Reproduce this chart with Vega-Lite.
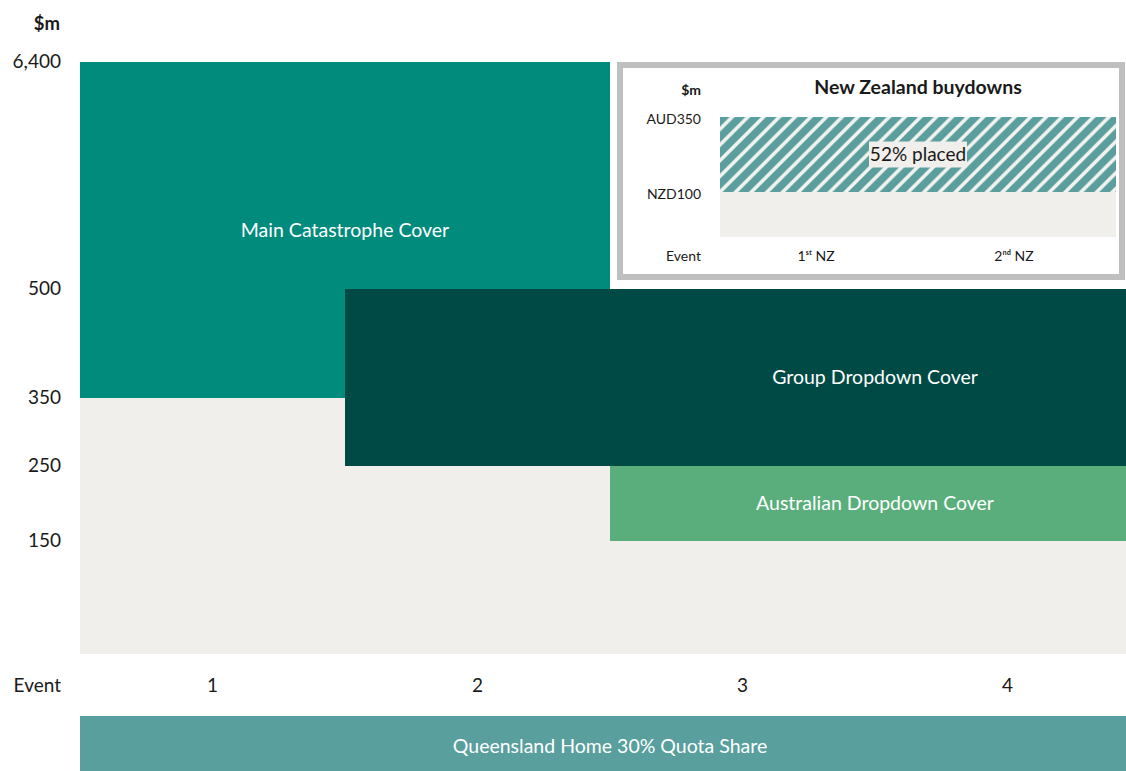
{
  "$schema": "https://vega.github.io/schema/vega-lite/v6.json",
  "width": 1126,
  "height": 771,
  "padding": 0,
  "autosize": {"type": "none"},
  "background": "white",
  "config": {
    "view": {"stroke": null},
    "font": "Lato",
    "text": {"font": "Lato", "color": "#1a1a1a"}
  },
  "datasets": {
    "retention": [
      {"event": 1, "from": 0, "to": 1, "low": 0, "high": 350},
      {"event": 2, "from": 1, "to": 2, "low": 0, "high": 250},
      {"event": 3, "from": 2, "to": 3, "low": 0, "high": 150},
      {"event": 4, "from": 3, "to": 4, "low": 0, "high": 150}
    ],
    "events": [
      {"event": 1, "mid": 0.5},
      {"event": 2, "mid": 1.5},
      {"event": 3, "mid": 2.5},
      {"event": 4, "mid": 3.5}
    ],
    "levels": [
      {"value": 150}, {"value": 250}, {"value": 350}, {"value": 500}, {"value": 6400}
    ],
    "covers": [
      {"cover": "Main Catastrophe Cover", "from": 0, "to": 2, "low": 350, "high": 6400, "label_x": 1, "label_y": 2000},
      {"cover": "Group Dropdown Cover", "from": 1, "to": 4, "low": 250, "high": 500, "label_x": 3, "label_y": 378},
      {"cover": "Australian Dropdown Cover", "from": 2, "to": 4, "low": 150, "high": 250, "label_x": 3, "label_y": 200}
    ],
    "quota": [
      {"cover": "Queensland Home 30% Quota Share", "from": 0, "to": 4, "label_x": 2}
    ],
    "nz_retention": [
      {"event": "1st NZ", "from": 0, "to": 1, "low": 0, "high": 100},
      {"event": "2nd NZ", "from": 1, "to": 2, "low": 0, "high": 100}
    ],
    "nz_buydown": [
      {"cover": "New Zealand buydowns", "from": 0, "to": 2, "low": 100, "high": 350, "placed": "52% placed", "label_x": 1, "label_y": 225}
    ],
    "nz_events": [
      {"label": "1ˢᵗ NZ", "mid": 0.5},
      {"label": "2ⁿᵈ NZ", "mid": 1.5}
    ],
    "nz_levels": [
      {"label": "NZD100", "value": 100},
      {"label": "AUD350", "value": 350}
    ]
  },
  "layer": [
    {
      "layer": [
        {
          "data": {"name": "retention"},
          "mark": {"type": "rect", "fill": "#F0EFEB", "clip": true},
          "encoding": {
            "x": {"field": "from", "type": "quantitative", "scale": {"domain": [0, 4], "range": [80, 1140], "nice": false, "zero": false}, "axis": null},
            "x2": {"field": "to"},
            "y": {"field": "low", "type": "quantitative", "scale": {"domain": [0, 150, 250, 350, 500, 6400], "range": [654, 541, 466, 398, 289, 62], "nice": false, "zero": false}, "axis": null},
            "y2": {"field": "high"}
          }
        },
        {
          "data": {"name": "covers"},
          "mark": {"type": "rect", "clip": true},
          "encoding": {
            "x": {"field": "from", "type": "quantitative", "scale": {"domain": [0, 4], "range": [80, 1140], "nice": false, "zero": false}, "axis": null},
            "x2": {"field": "to"},
            "y": {"field": "low", "type": "quantitative", "scale": {"domain": [0, 150, 250, 350, 500, 6400], "range": [654, 541, 466, 398, 289, 62], "nice": false, "zero": false}, "axis": null},
            "y2": {"field": "high"},
            "fill": {"field": "cover", "type": "nominal",
              "scale": {"domain": ["Main Catastrophe Cover", "Group Dropdown Cover", "Australian Dropdown Cover"], "range": ["#008B7D", "#004A45", "#5AAE7C"]},
              "legend": null}
          }
        },
        {
          "data": {"name": "covers"},
          "mark": {"type": "text", "color": "white", "fontSize": 19.5, "align": "center", "baseline": "middle"},
          "encoding": {
            "x": {"field": "label_x", "type": "quantitative", "scale": {"domain": [0, 4], "range": [80, 1140], "nice": false, "zero": false}, "axis": null},
            "y": {"field": "label_y", "type": "quantitative", "scale": {"domain": [0, 150, 250, 350, 500, 6400], "range": [654, 541, 466, 398, 289, 62], "nice": false, "zero": false}, "axis": null},
            "text": {"field": "cover", "type": "nominal"}
          }
        },
        {
          "data": {"name": "levels"},
          "mark": {"type": "text", "fontSize": 19, "align": "right", "baseline": "middle", "dx": -19},
          "encoding": {
            "x": {"datum": 0, "type": "quantitative", "scale": {"domain": [0, 4], "range": [80, 1140], "nice": false, "zero": false}, "axis": null},
            "y": {"field": "value", "type": "quantitative", "scale": {"domain": [0, 150, 250, 350, 500, 6400], "range": [654, 541, 466, 398, 289, 62], "nice": false, "zero": false}, "axis": null},
            "text": {"field": "value", "type": "quantitative", "format": ","}
          }
        },
        {
          "data": {"name": "levels"},
          "transform": [{"filter": "datum.value == 6400"}],
          "mark": {"type": "text", "text": "$m", "fontSize": 18.5, "fontWeight": "bold", "align": "right", "baseline": "middle", "dx": -20, "dy": -38},
          "encoding": {
            "x": {"datum": 0, "type": "quantitative", "scale": {"domain": [0, 4], "range": [80, 1140], "nice": false, "zero": false}, "axis": null},
            "y": {"field": "value", "type": "quantitative", "scale": {"domain": [0, 150, 250, 350, 500, 6400], "range": [654, 541, 466, 398, 289, 62], "nice": false, "zero": false}, "axis": null}
          }
        },
        {
          "data": {"name": "events"},
          "mark": {"type": "text", "fontSize": 19, "align": "center", "baseline": "middle", "dy": 32},
          "encoding": {
            "x": {"field": "mid", "type": "quantitative", "scale": {"domain": [0, 4], "range": [80, 1140], "nice": false, "zero": false}, "axis": null},
            "y": {"datum": 0, "type": "quantitative", "scale": {"domain": [0, 150, 250, 350, 500, 6400], "range": [654, 541, 466, 398, 289, 62], "nice": false, "zero": false}, "axis": null},
            "text": {"field": "event", "type": "nominal"}
          }
        },
        {
          "data": {"name": "events"},
          "transform": [{"filter": "datum.event == 1"}],
          "mark": {"type": "text", "text": "Event", "fontSize": 19, "align": "right", "baseline": "middle", "dx": -19, "dy": 32},
          "encoding": {
            "x": {"datum": 0, "type": "quantitative", "scale": {"domain": [0, 4], "range": [80, 1140], "nice": false, "zero": false}, "axis": null},
            "y": {"datum": 0, "type": "quantitative", "scale": {"domain": [0, 150, 250, 350, 500, 6400], "range": [654, 541, 466, 398, 289, 62], "nice": false, "zero": false}, "axis": null}
          }
        }
      ]
    },
    {
      "layer": [
        {
          "data": {"name": "nz_buydown"},
          "mark": {"type": "rect", "fill": "white", "stroke": "#BFBFBF", "strokeWidth": 6, "xOffset": -100, "x2Offset": 6, "yOffset": 40, "y2Offset": -52},
          "encoding": {
            "x": {"datum": 0, "type": "quantitative", "scale": {"domain": [0, 2], "range": [720, 1116], "nice": false, "zero": false}, "axis": null},
            "x2": {"datum": 2},
            "y": {"datum": 0, "type": "quantitative", "scale": {"domain": [0, 100, 350], "range": [237, 192, 117], "nice": false, "zero": false}, "axis": null},
            "y2": {"datum": 350}
          }
        },
        {
          "data": {"name": "nz_retention"},
          "mark": {"type": "rect", "fill": "#F0EFEB"},
          "encoding": {
            "x": {"field": "from", "type": "quantitative", "scale": {"domain": [0, 2], "range": [720, 1116], "nice": false, "zero": false}, "axis": null},
            "x2": {"field": "to"},
            "y": {"field": "low", "type": "quantitative", "scale": {"domain": [0, 100, 350], "range": [237, 192, 117], "nice": false, "zero": false}, "axis": null},
            "y2": {"field": "high"}
          }
        },
        {
          "data": {"name": "nz_buydown"},
          "mark": {"type": "rect", "fill": {"gradient": "linear", "x1": 0, "y1": 0, "x2": 1.1482, "y2": 0.2175, "stops": [
            {"offset": 0, "color": "#5A9F9D"}, {"offset": 0.0183, "color": "#5A9F9D"}, {"offset": 0.0227, "color": "#F2F2EE"}, {"offset": 0.029, "color": "#F2F2EE"},
            {"offset": 0.0333, "color": "#5A9F9D"}, {"offset": 0.0517, "color": "#5A9F9D"}, {"offset": 0.056, "color": "#F2F2EE"}, {"offset": 0.0623, "color": "#F2F2EE"},
            {"offset": 0.0667, "color": "#5A9F9D"}, {"offset": 0.085, "color": "#5A9F9D"}, {"offset": 0.0893, "color": "#F2F2EE"}, {"offset": 0.0957, "color": "#F2F2EE"},
            {"offset": 0.1, "color": "#5A9F9D"}, {"offset": 0.1183, "color": "#5A9F9D"}, {"offset": 0.1227, "color": "#F2F2EE"}, {"offset": 0.129, "color": "#F2F2EE"},
            {"offset": 0.1333, "color": "#5A9F9D"}, {"offset": 0.1517, "color": "#5A9F9D"}, {"offset": 0.156, "color": "#F2F2EE"}, {"offset": 0.1623, "color": "#F2F2EE"},
            {"offset": 0.1667, "color": "#5A9F9D"}, {"offset": 0.185, "color": "#5A9F9D"}, {"offset": 0.1893, "color": "#F2F2EE"}, {"offset": 0.1957, "color": "#F2F2EE"},
            {"offset": 0.2, "color": "#5A9F9D"}, {"offset": 0.2183, "color": "#5A9F9D"}, {"offset": 0.2227, "color": "#F2F2EE"}, {"offset": 0.229, "color": "#F2F2EE"},
            {"offset": 0.2333, "color": "#5A9F9D"}, {"offset": 0.2517, "color": "#5A9F9D"}, {"offset": 0.256, "color": "#F2F2EE"}, {"offset": 0.2623, "color": "#F2F2EE"},
            {"offset": 0.2667, "color": "#5A9F9D"}, {"offset": 0.285, "color": "#5A9F9D"}, {"offset": 0.2893, "color": "#F2F2EE"}, {"offset": 0.2957, "color": "#F2F2EE"},
            {"offset": 0.3, "color": "#5A9F9D"}, {"offset": 0.3183, "color": "#5A9F9D"}, {"offset": 0.3227, "color": "#F2F2EE"}, {"offset": 0.329, "color": "#F2F2EE"},
            {"offset": 0.3333, "color": "#5A9F9D"}, {"offset": 0.3517, "color": "#5A9F9D"}, {"offset": 0.356, "color": "#F2F2EE"}, {"offset": 0.3623, "color": "#F2F2EE"},
            {"offset": 0.3667, "color": "#5A9F9D"}, {"offset": 0.385, "color": "#5A9F9D"}, {"offset": 0.3893, "color": "#F2F2EE"}, {"offset": 0.3957, "color": "#F2F2EE"},
            {"offset": 0.4, "color": "#5A9F9D"}, {"offset": 0.4183, "color": "#5A9F9D"}, {"offset": 0.4227, "color": "#F2F2EE"}, {"offset": 0.429, "color": "#F2F2EE"},
            {"offset": 0.4333, "color": "#5A9F9D"}, {"offset": 0.4517, "color": "#5A9F9D"}, {"offset": 0.456, "color": "#F2F2EE"}, {"offset": 0.4623, "color": "#F2F2EE"},
            {"offset": 0.4667, "color": "#5A9F9D"}, {"offset": 0.485, "color": "#5A9F9D"}, {"offset": 0.4893, "color": "#F2F2EE"}, {"offset": 0.4957, "color": "#F2F2EE"},
            {"offset": 0.5, "color": "#5A9F9D"}, {"offset": 0.5183, "color": "#5A9F9D"}, {"offset": 0.5227, "color": "#F2F2EE"}, {"offset": 0.529, "color": "#F2F2EE"},
            {"offset": 0.5333, "color": "#5A9F9D"}, {"offset": 0.5517, "color": "#5A9F9D"}, {"offset": 0.556, "color": "#F2F2EE"}, {"offset": 0.5623, "color": "#F2F2EE"},
            {"offset": 0.5667, "color": "#5A9F9D"}, {"offset": 0.585, "color": "#5A9F9D"}, {"offset": 0.5893, "color": "#F2F2EE"}, {"offset": 0.5957, "color": "#F2F2EE"},
            {"offset": 0.6, "color": "#5A9F9D"}, {"offset": 0.6183, "color": "#5A9F9D"}, {"offset": 0.6227, "color": "#F2F2EE"}, {"offset": 0.629, "color": "#F2F2EE"},
            {"offset": 0.6333, "color": "#5A9F9D"}, {"offset": 0.6517, "color": "#5A9F9D"}, {"offset": 0.656, "color": "#F2F2EE"}, {"offset": 0.6623, "color": "#F2F2EE"},
            {"offset": 0.6667, "color": "#5A9F9D"}, {"offset": 0.685, "color": "#5A9F9D"}, {"offset": 0.6893, "color": "#F2F2EE"}, {"offset": 0.6957, "color": "#F2F2EE"},
            {"offset": 0.7, "color": "#5A9F9D"}, {"offset": 0.7183, "color": "#5A9F9D"}, {"offset": 0.7227, "color": "#F2F2EE"}, {"offset": 0.729, "color": "#F2F2EE"},
            {"offset": 0.7333, "color": "#5A9F9D"}, {"offset": 0.7517, "color": "#5A9F9D"}, {"offset": 0.756, "color": "#F2F2EE"}, {"offset": 0.7623, "color": "#F2F2EE"},
            {"offset": 0.7667, "color": "#5A9F9D"}, {"offset": 0.785, "color": "#5A9F9D"}, {"offset": 0.7893, "color": "#F2F2EE"}, {"offset": 0.7957, "color": "#F2F2EE"},
            {"offset": 0.8, "color": "#5A9F9D"}, {"offset": 0.8183, "color": "#5A9F9D"}, {"offset": 0.8227, "color": "#F2F2EE"}, {"offset": 0.829, "color": "#F2F2EE"},
            {"offset": 0.8333, "color": "#5A9F9D"}, {"offset": 0.8517, "color": "#5A9F9D"}, {"offset": 0.856, "color": "#F2F2EE"}, {"offset": 0.8623, "color": "#F2F2EE"},
            {"offset": 0.8667, "color": "#5A9F9D"}, {"offset": 0.885, "color": "#5A9F9D"}, {"offset": 0.8893, "color": "#F2F2EE"}, {"offset": 0.8957, "color": "#F2F2EE"},
            {"offset": 0.9, "color": "#5A9F9D"}, {"offset": 0.9183, "color": "#5A9F9D"}, {"offset": 0.9227, "color": "#F2F2EE"}, {"offset": 0.929, "color": "#F2F2EE"},
            {"offset": 0.9333, "color": "#5A9F9D"}, {"offset": 0.9517, "color": "#5A9F9D"}, {"offset": 0.956, "color": "#F2F2EE"}, {"offset": 0.9623, "color": "#F2F2EE"},
            {"offset": 0.9667, "color": "#5A9F9D"}, {"offset": 0.985, "color": "#5A9F9D"}, {"offset": 0.9893, "color": "#F2F2EE"}, {"offset": 0.9957, "color": "#F2F2EE"},
            {"offset": 1, "color": "#5A9F9D"}
          ]}},
          "encoding": {
            "x": {"field": "from", "type": "quantitative", "scale": {"domain": [0, 2], "range": [720, 1116], "nice": false, "zero": false}, "axis": null},
            "x2": {"field": "to"},
            "y": {"field": "low", "type": "quantitative", "scale": {"domain": [0, 100, 350], "range": [237, 192, 117], "nice": false, "zero": false}, "axis": null},
            "y2": {"field": "high"}
          }
        },
        {
          "data": {"name": "nz_buydown"},
          "mark": {"type": "rect", "fill": "#F0EFEB", "xOffset": -49, "x2Offset": 49, "yOffset": 13, "y2Offset": -13},
          "encoding": {
            "x": {"field": "label_x", "type": "quantitative", "scale": {"domain": [0, 2], "range": [720, 1116], "nice": false, "zero": false}, "axis": null},
            "x2": {"field": "label_x"},
            "y": {"field": "label_y", "type": "quantitative", "scale": {"domain": [0, 100, 350], "range": [237, 192, 117], "nice": false, "zero": false}, "axis": null},
            "y2": {"field": "label_y"}
          }
        },
        {
          "data": {"name": "nz_buydown"},
          "mark": {"type": "text", "fontSize": 19, "align": "center", "baseline": "middle"},
          "encoding": {
            "x": {"field": "label_x", "type": "quantitative", "scale": {"domain": [0, 2], "range": [720, 1116], "nice": false, "zero": false}, "axis": null},
            "y": {"field": "label_y", "type": "quantitative", "scale": {"domain": [0, 100, 350], "range": [237, 192, 117], "nice": false, "zero": false}, "axis": null},
            "text": {"field": "placed", "type": "nominal"}
          }
        },
        {
          "data": {"name": "nz_buydown"},
          "mark": {"type": "text", "fontSize": 19.5, "fontWeight": "bold", "align": "center", "baseline": "middle", "dy": -29},
          "encoding": {
            "x": {"field": "label_x", "type": "quantitative", "scale": {"domain": [0, 2], "range": [720, 1116], "nice": false, "zero": false}, "axis": null},
            "y": {"field": "high", "type": "quantitative", "scale": {"domain": [0, 100, 350], "range": [237, 192, 117], "nice": false, "zero": false}, "axis": null},
            "text": {"field": "cover", "type": "nominal"}
          }
        },
        {
          "data": {"name": "nz_buydown"},
          "mark": {"type": "text", "text": "$m", "fontSize": 14, "fontWeight": "bold", "align": "right", "baseline": "middle", "dx": -19, "dy": -26},
          "encoding": {
            "x": {"field": "from", "type": "quantitative", "scale": {"domain": [0, 2], "range": [720, 1116], "nice": false, "zero": false}, "axis": null},
            "y": {"field": "high", "type": "quantitative", "scale": {"domain": [0, 100, 350], "range": [237, 192, 117], "nice": false, "zero": false}, "axis": null}
          }
        },
        {
          "data": {"name": "nz_buydown"},
          "mark": {"type": "text", "text": "Event", "fontSize": 14, "align": "right", "baseline": "middle", "dx": -19, "dy": 20},
          "encoding": {
            "x": {"field": "from", "type": "quantitative", "scale": {"domain": [0, 2], "range": [720, 1116], "nice": false, "zero": false}, "axis": null},
            "y": {"datum": 0, "type": "quantitative", "scale": {"domain": [0, 100, 350], "range": [237, 192, 117], "nice": false, "zero": false}, "axis": null}
          }
        },
        {
          "data": {"name": "nz_levels"},
          "mark": {"type": "text", "fontSize": 14, "align": "right", "baseline": "middle", "dx": -19, "dy": 3},
          "encoding": {
            "x": {"datum": 0, "type": "quantitative", "scale": {"domain": [0, 2], "range": [720, 1116], "nice": false, "zero": false}, "axis": null},
            "y": {"field": "value", "type": "quantitative", "scale": {"domain": [0, 100, 350], "range": [237, 192, 117], "nice": false, "zero": false}, "axis": null},
            "text": {"field": "label", "type": "nominal"}
          }
        },
        {
          "data": {"name": "nz_events"},
          "mark": {"type": "text", "fontSize": 14, "align": "center", "baseline": "middle", "dx": -3, "dy": 20},
          "encoding": {
            "x": {"field": "mid", "type": "quantitative", "scale": {"domain": [0, 2], "range": [720, 1116], "nice": false, "zero": false}, "axis": null},
            "y": {"datum": 0, "type": "quantitative", "scale": {"domain": [0, 100, 350], "range": [237, 192, 117], "nice": false, "zero": false}, "axis": null},
            "text": {"field": "label", "type": "nominal"}
          }
        }
      ]
    },
    {
      "data": {"name": "quota"},
      "layer": [
        {
          "mark": {"type": "rect", "fill": "#589F9E", "clip": true},
          "encoding": {
            "x": {"field": "from", "type": "quantitative", "scale": {"domain": [0, 4], "range": [80, 1140], "nice": false, "zero": false}, "axis": null},
            "x2": {"field": "to"},
            "y": {"field": "cover", "type": "nominal", "scale": {"range": [716, 771], "paddingInner": 0, "paddingOuter": 0}, "axis": null}
          }
        },
        {
          "mark": {"type": "text", "color": "white", "fontSize": 19.5, "align": "center", "baseline": "middle", "dy": 3},
          "encoding": {
            "x": {"field": "label_x", "type": "quantitative", "scale": {"domain": [0, 4], "range": [80, 1140], "nice": false, "zero": false}, "axis": null},
            "y": {"field": "cover", "type": "nominal", "scale": {"range": [716, 771], "paddingInner": 0, "paddingOuter": 0}, "axis": null},
            "text": {"field": "cover", "type": "nominal"}
          }
        }
      ]
    }
  ],
  "resolve": {
    "scale": {"x": "independent", "y": "independent", "fill": "independent"}
  }
}
